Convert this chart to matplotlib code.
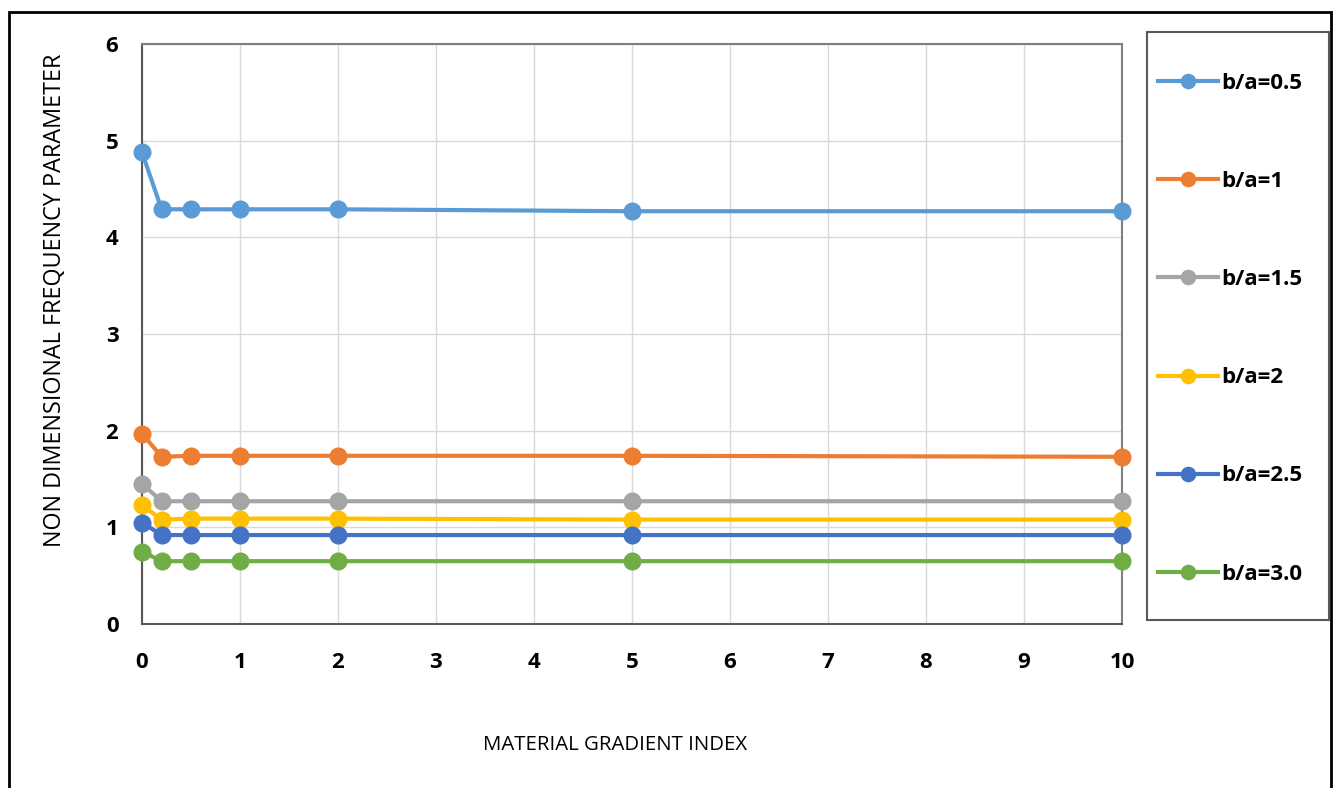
import matplotlib
matplotlib.use("Agg")
import matplotlib.pyplot as plt
from matplotlib.patches import Rectangle

# material gradient index values and frequency parameter per b/a ratio
gradient_index = [0, 0.2, 0.5, 1, 2, 5, 10]
ratio_labels = ["b/a=0.5", "b/a=1", "b/a=1.5", "b/a=2", "b/a=2.5", "b/a=3.0"]
freq_05 = [4.88, 4.29, 4.29, 4.29, 4.29, 4.27, 4.27]
freq_10 = [1.97, 1.73, 1.74, 1.74, 1.74, 1.74, 1.73]
freq_15 = [1.45, 1.27, 1.27, 1.27, 1.27, 1.27, 1.27]
freq_20 = [1.23, 1.08, 1.09, 1.09, 1.09, 1.08, 1.08]
freq_25 = [1.05, 0.92, 0.92, 0.92, 0.92, 0.92, 0.92]
freq_30 = [0.75, 0.65, 0.65, 0.65, 0.65, 0.65, 0.65]
x_ticks = [0, 1, 2, 3, 4, 5, 6, 7, 8, 9, 10]
y_ticks = [0, 1, 2, 3, 4, 5, 6]

colors = ["#5B9BD5", "#ED7D31", "#A5A5A5", "#FFC000", "#4472C4", "#70AD47"]
series = [freq_05, freq_10, freq_15, freq_20, freq_25, freq_30]

plt.rcParams['font.family'] = ['Open Sans', 'DejaVu Sans']

W, H = 1333, 788
fig = plt.figure(figsize=(W / 100, H / 100), dpi=100)

# outer chart frame
fig.patches.append(Rectangle((9 / W, -0.05), 1322 / W, 1.05 - 12 / H,
                             transform=fig.transFigure, fill=False,
                             edgecolor="black", linewidth=2))
# legend box, drawn by hand so the padding can be uneven
fig.patches.append(Rectangle((1147 / W, 1 - 620 / H), 182 / W, 588 / H,
                             transform=fig.transFigure, fill=False,
                             edgecolor="#595959", linewidth=1.5))

ax = fig.add_axes([142 / W, 1 - 624 / H, 980 / W, 580 / H])
lines = []
for vals, col, lab in zip(series, colors, ratio_labels):
    ln, = ax.plot(gradient_index, vals, color=col, linewidth=3, marker="o",
                  markersize=12, label=lab, clip_on=False, zorder=3)
    lines.append(ln)

ax.set_xlim(0, 10)
ax.set_ylim(0, 6)
ax.set_xticks(x_ticks)
ax.set_yticks(y_ticks)
ax.grid(True, color="#D9D9D9", linewidth=1)
ax.set_axisbelow(True)
for s in ax.spines.values():
    s.set_color("#808080")
    s.set_linewidth(1.5)
ax.spines["left"].set_color("#595959")
ax.spines["bottom"].set_color("#595959")
ax.tick_params(length=0, labelsize=16)
ax.tick_params(axis="x", pad=20)
ax.tick_params(axis="y", pad=17)
for t in ax.get_xticklabels() + ax.get_yticklabels():
    t.set_fontweight("bold")

fig.text(615 / W, 1 - 745 / H, "MATERIAL GRADIENT INDEX", ha="center",
         va="center", fontsize=14.7)
fig.text(55 / W, 1 - 300 / H, "NON DIMENSIONAL FREQUENCY PARAMETER",
         ha="center", va="center", rotation=90, fontsize=16.8)

leg = fig.legend(handles=lines, loc="upper left",
                 bbox_to_anchor=(1158 / W, 1 - 73 / H), fontsize=16,
                 labelspacing=3.47, handlelength=2.7, handletextpad=0.15,
                 borderpad=0, borderaxespad=0, frameon=False,
                 markerscale=0.85)
for t in leg.get_texts():
    t.set_fontweight("bold")

fig.savefig("out.png", dpi=100)
